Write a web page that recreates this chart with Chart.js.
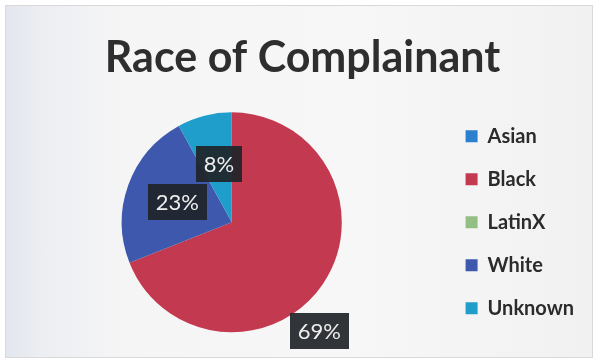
<!DOCTYPE html>
<html>
<head>
<meta charset="utf-8">
<script src="https://cdn.jsdelivr.net/npm/chart.js@4/dist/chart.umd.min.js"></script>
<style>
    html, body { margin: 0; padding: 0; background: #ffffff; }
    #wrap {
        position: relative;
        width: 597px;
        height: 362px;
        overflow: hidden;
    }
    #panel {
        position: absolute;
        left: 5px; top: 5px; right: 4px; bottom: 4px;
        border: 1px solid #d9d9dc;
        background: linear-gradient(to right, #e3e6ee 0%, #eceef2 6%, #f5f5f6 20%, #f7f7f7 60%, #f1f1f2 100%);
    }
    #raceChart { position: absolute; left: 0; top: 0; }
</style>
</head>
<body>
<div id="wrap">
    <div id="panel"></div>
    <canvas id="raceChart" width="597" height="362"></canvas>
</div>
<script>
// Complainant race breakdown (percent)
const races = ['Asian', 'Black', 'LatinX', 'White', 'Unknown'];
const shares = [0, 69, 0, 23, 8];
const sliceColors = ['#2b7fcf', '#c33a50', '#93bf84', '#3d58ad', '#1f9dcb'];

// Dark boxed percentage labels, placed along each slice's middle angle
const boxedLabels = {
    id: 'boxedLabels',
    afterDatasetsDraw(chart, args, opts) {
        const ctx = chart.ctx;
        const meta = chart.getDatasetMeta(0);
        ctx.save();
        ctx.font = opts.font;
        ctx.textAlign = 'center';
        ctx.textBaseline = 'middle';
        meta.data.forEach((arc, i) => {
            const value = chart.data.datasets[0].data[i];
            if (!value) return;
            const p = arc.getProps(['x', 'y', 'startAngle', 'endAngle', 'outerRadius'], true);
            const mid = (p.startAngle + p.endAngle) / 2 + (opts.turn[i] || 0) * Math.PI / 180;
            const r = p.outerRadius * (opts.radius[i] || 0.5);
            const cx = p.x + Math.cos(mid) * r;
            const cy = p.y + Math.sin(mid) * r;
            const text = value + '%';
            const w = ctx.measureText(text).width + opts.padX * 2;
            const h = opts.boxHeight;
            ctx.fillStyle = opts.boxColor;
            ctx.fillRect(Math.round(cx - w / 2), Math.round(cy - h / 2), Math.round(w), h);
            ctx.fillStyle = opts.color;
            ctx.fillText(text, cx, cy + 1);
        });
        ctx.restore();
    }
};

const raceChart = new Chart(document.getElementById('raceChart').getContext('2d'), {
    type: 'pie',
    data: {
        labels: races,
        datasets: [{
            data: shares,
            backgroundColor: sliceColors,
            borderWidth: 0,
            radius: 110
        }]
    },
    options: {
        responsive: false,
        animation: false,
        layout: {
            padding: { left: 21, right: 13, top: 0, bottom: 17 }
        },
        plugins: {
            title: {
                display: true,
                text: 'Race of Complainant',
                color: '#2e2e2e',
                font: { family: 'Lato, sans-serif', size: 43, weight: 'bold', lineHeight: 1.2 },
                padding: { top: 32, bottom: 16 }
            },
            legend: {
                position: 'right',
                fullSize: false,
                labels: {
                    boxWidth: 12,
                    boxHeight: 12,
                    padding: 23,
                    color: '#2b2b2b',
                    font: { family: 'Lato, sans-serif', size: 20, weight: 'bold' }
                }
            },
            tooltip: { enabled: false },
            boxedLabels: {
                font: '22px Lato, sans-serif',
                color: '#eeeeee',
                boxColor: 'rgba(32, 36, 40, 0.92)',
                padX: 8,
                boxHeight: 36,
                radius: [0.5, 1.27, 0.5, 0.53, 0.54],
                turn: [0, 17, 0, 1, 2]
            }
        }
    },
    plugins: [boxedLabels]
});
</script>
</body>
</html>
